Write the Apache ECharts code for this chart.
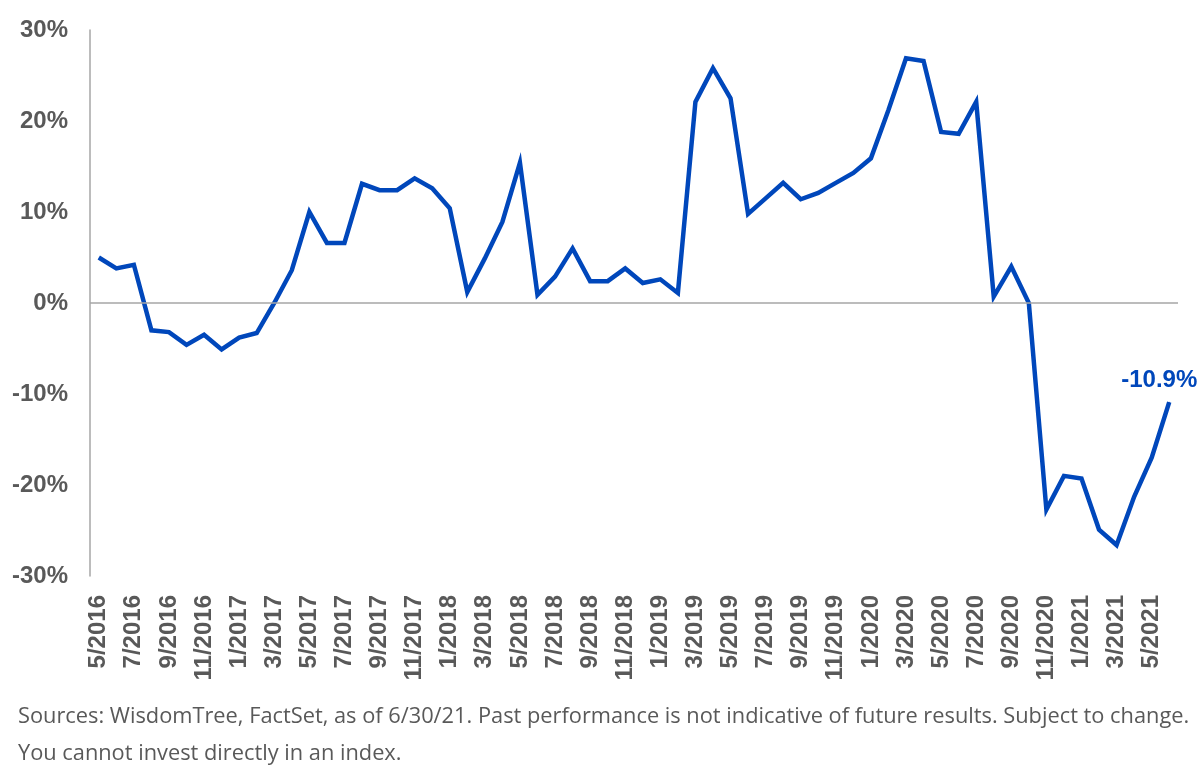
<!DOCTYPE html>
<html>
<head>
<meta charset="utf-8">
<title>Return chart</title>
<script src="https://cdn.jsdelivr.net/npm/echarts@6/dist/echarts.min.js"></script>
<style>
  html, body { margin: 0; padding: 0; background: #ffffff; }
  #chart { width: 1200px; height: 781px; }
</style>
</head>
<body>
<div id="chart"></div>
<script>
// month-end dates, 5/2016 .. 6/2021
var months = [
  '5/2016','6/2016','7/2016','8/2016','9/2016','10/2016','11/2016','12/2016',
  '1/2017','2/2017','3/2017','4/2017','5/2017','6/2017','7/2017','8/2017','9/2017','10/2017','11/2017','12/2017',
  '1/2018','2/2018','3/2018','4/2018','5/2018','6/2018','7/2018','8/2018','9/2018','10/2018','11/2018','12/2018',
  '1/2019','2/2019','3/2019','4/2019','5/2019','6/2019','7/2019','8/2019','9/2019','10/2019','11/2019','12/2019',
  '1/2020','2/2020','3/2020','4/2020','5/2020','6/2020','7/2020','8/2020','9/2020','10/2020','11/2020','12/2020',
  '1/2021','2/2021','3/2021','4/2021','5/2021','6/2021'
];

// values in %
var returns = [
  5.0, 3.8, 4.2, -3.0, -3.2, -4.6, -3.5, -5.1,
  -3.8, -3.3, 0.0, 3.6, 10.0, 6.6, 6.6, 13.1, 12.4, 12.4, 13.7, 12.6,
  10.4, 1.2, 4.9, 8.9, 15.4, 0.9, 2.9, 6.0, 2.4, 2.4, 3.8, 2.2,
  2.6, 1.1, 22.1, 25.8, 22.5, 9.8, 11.5, 13.2, 11.4, 12.1, 13.2, 14.3,
  15.9, 21.2, 26.9, 26.6, 18.8, 18.6, 22.1, 0.7, 4.0, 0.0, -22.7, -19.0,
  -19.3, -24.9, -26.6, -21.3, -17.0, -10.9
];

var yTicks = { min: -30, max: 30, step: 10 };

var footLines = [
  'Sources: WisdomTree, FactSet, as of 6/30/21. Past performance is not indicative of future results. Subject to change.',
  'You cannot invest directly in an index.'
];

var lastIdx = returns.length - 1;

var myChart = echarts.init(document.getElementById('chart'));

var option = {
    animation: false,
    backgroundColor: '#ffffff',
    grid: {
        left: 90,
        right: 22,
        top: 30,
        bottom: 205
    },
    xAxis: {
        type: 'category',
        data: months,
        boundaryGap: true,
        axisLine: { show: false },
        axisTick: { show: false },
        axisLabel: {
            interval: 1,
            rotate: 90,
            margin: 19,
            color: '#595959',
            fontSize: 24,
            fontWeight: 'bold',
            fontFamily: 'Liberation Sans'
        }
    },
    yAxis: {
        type: 'value',
        min: yTicks.min,
        max: yTicks.max,
        interval: yTicks.step,
        axisLine: {
            show: true,
            lineStyle: { color: '#a6a6a6', width: 1.5 }
        },
        axisTick: { show: false },
        splitLine: { show: false },
        axisLabel: {
            formatter: '{value}%',
            margin: 22,
            color: '#595959',
            fontSize: 24,
            fontWeight: 'bold',
            fontFamily: 'Liberation Sans'
        }
    },
    series: [
        {
            type: 'line',
            data: returns,
            symbol: 'none',
            lineStyle: { color: '#0047bb', width: 4.5, join: 'miter' },
            itemStyle: { color: '#0047bb' },
            markLine: {
                silent: true,
                symbol: 'none',
                label: { show: false },
                lineStyle: { color: '#a6a6a6', width: 1.5, type: 'solid' },
                data: [{ yAxis: 0 }]
            },
            // end-of-line value label
            markPoint: {
                silent: true,
                symbol: 'circle',
                symbolSize: 1,
                itemStyle: { color: '#0047bb' },
                label: {
                    show: true,
                    position: 'top',
                    distance: 9,
                    offset: [-10, 0],
                    formatter: returns[lastIdx].toFixed(1) + '%',
                    color: '#0047bb',
                    fontSize: 24,
                    fontWeight: 'bold',
                    fontFamily: 'Liberation Sans'
                },
                data: [{ coord: [months[lastIdx], returns[lastIdx]] }]
            },
            z: 3
        }
    ],
    graphic: [
        {
            type: 'text',
            left: 18,
            top: 706,
            style: {
                text: footLines[0],
                fill: '#595959',
                fontSize: 21.8,
                fontFamily: 'Open Sans'
            }
        },
        {
            type: 'text',
            left: 18,
            top: 743,
            style: {
                text: footLines[1],
                fill: '#595959',
                fontSize: 21.8,
                fontFamily: 'Open Sans'
            }
        }
    ]
};

myChart.setOption(option);
</script>
</body>
</html>
